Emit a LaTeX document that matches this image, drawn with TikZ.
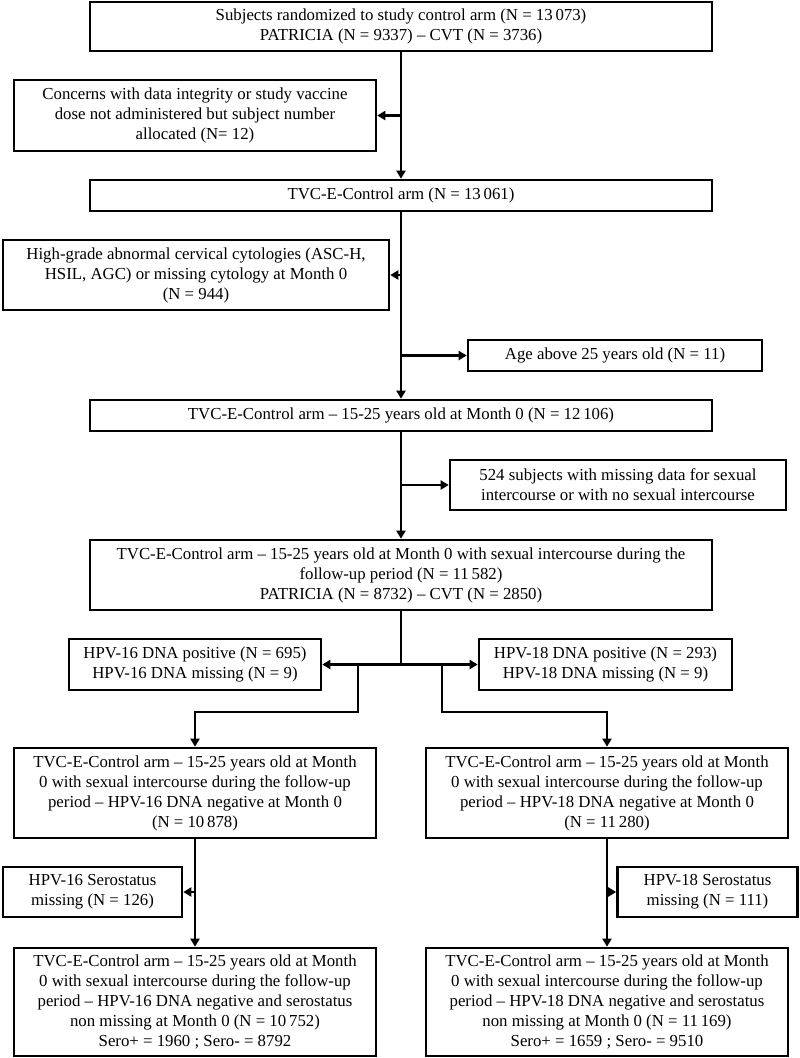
\documentclass[tikz,border=0pt]{standalone}
\usepackage{fontspec}
\setmainfont{Liberation Serif}
\usetikzlibrary{arrows.meta}
\begin{document}
\begin{tikzpicture}[x=1pt,y=-1pt,
  box/.style={draw,line width=2.6pt,align=center,inner sep=0pt,font=\fontsize{16.8}{20}\selectfont},
  conn/.style={line width=2.3pt},
  arr/.style={conn,-{Triangle[length=8pt,width=9pt]}}]
\useasboundingbox (0,0) rectangle (800,1058);
\node[box,minimum width=622pt,minimum height=49pt] (top) at (401,26.5)
  {Subjects randomized to study control arm (N = 13\,073)\\PATRICIA (N = 9337) – CVT (N = 3736)};
\node[box,minimum width=362pt,minimum height=71pt] (concerns) at (195,115.5)
  {Concerns with data integrity or study vaccine\\dose not administered but subject number\\allocated (N= 12)};
\node[box,minimum width=622pt,minimum height=31pt] (tvc1) at (401,195.5)
  {TVC-E-Control arm (N = 13\,061)};
\node[box,minimum width=386pt,minimum height=70pt] (high) at (196,275)
  {High-grade abnormal cervical cytologies (ASC-H,\\HSIL, AGC) or missing cytology at Month 0\\(N = 944)};
\node[box,minimum width=294pt,minimum height=31pt] (age) at (615,355.5)
  {Age above 25 years old (N = 11)};
\node[box,minimum width=622pt,minimum height=31pt] (tvc2) at (401,415.5)
  {TVC-E-Control arm – 15-25 years old at Month 0 (N = 12\,106)};
\node[box,minimum width=336pt,minimum height=50pt] (miss) at (618,485)
  {524 subjects with missing data for sexual\\intercourse or with no sexual intercourse};
\node[box,minimum width=622pt,minimum height=70pt] (tvc3) at (401,575)
  {TVC-E-Control arm – 15-25 years old at Month 0 with sexual intercourse during the\\follow-up period (N = 11\,582)\\PATRICIA (N = 8732) – CVT (N = 2850)};
\node[box,minimum width=252pt,minimum height=51pt] (pos16) at (195,664.5)
  {HPV-16 DNA positive (N = 695)\\HPV-16 DNA missing (N = 9)};
\node[box,minimum width=253pt,minimum height=51pt] (pos18) at (605.5,664.5)
  {HPV-18 DNA positive (N = 293)\\HPV-18 DNA missing (N = 9)};
\node[box,minimum width=362pt,minimum height=90pt] (neg16) at (195,793)
  {TVC-E-Control arm – 15-25 years old at Month\\0 with sexual intercourse during the follow-up\\period – HPV-16 DNA negative at Month 0\\(N = 10\,878)};
\node[box,minimum width=362pt,minimum height=90pt] (neg18) at (607,793)
  {TVC-E-Control arm – 15-25 years old at Month\\0 with sexual intercourse during the follow-up\\period – HPV-18 DNA negative at Month 0\\(N = 11\,280)};
\node[box,minimum width=179pt,minimum height=50pt] (sero16) at (92.5,892)
  {HPV-16 Serostatus\\missing (N = 126)};
\node[box,minimum width=180pt,minimum height=50pt] (sero18) at (707.5,892)
  {HPV-18 Serostatus\\missing (N = 111)};
\node[box,minimum width=362pt,minimum height=108pt] (fin16) at (195,1002)
  {TVC-E-Control arm – 15-25 years old at Month\\0 with sexual intercourse during the follow-up\\period – HPV-16 DNA negative and serostatus\\non missing at Month 0 (N = 10\,752)\\Sero+ = 1960 ; Sero- = 8792};
\node[box,minimum width=362pt,minimum height=108pt] (fin18) at (607,1002)
  {TVC-E-Control arm – 15-25 years old at Month\\0 with sexual intercourse during the follow-up\\period – HPV-18 DNA negative and serostatus\\non missing at Month 0 (N = 11\,169)\\Sero+ = 1659 ; Sero- = 9510};
% main flow
\draw[arr] (top.south) -- (tvc1.north);
\draw[arr] (top.south |- concerns.east) -- (concerns.east);
\draw[arr] (tvc1.south) -- (tvc2.north);
\draw[arr] (tvc1.south |- high.east) -- (high.east);
\draw[arr] (tvc1.south |- age.west) -- (age.west);
\draw[arr] (tvc2.south) -- (tvc3.north);
\draw[arr] (tvc2.south |- miss.west) -- (miss.west);
% split
\coordinate (split) at (tvc3.south |- pos16.east);
\draw[conn] (tvc3.south) -- (split);
\draw[arr] (split) -- (pos16.east);
\draw[arr] (split) -- (pos18.west);
\coordinate (l1) at (358,664.5);
\coordinate (l2) at (358,712);
\coordinate (r1) at (442,664.5);
\coordinate (r2) at (442,712);
\draw[arr] (l1) -- (l2) -| (neg16.north);
\draw[arr] (r1) -- (r2) -| (neg18.north);
% lower
\draw[arr] (neg16.south) -- (fin16.north);
\draw[arr] (neg16.south |- sero16.east) -- (sero16.east);
\draw[arr] (neg18.south) -- (fin18.north);
\draw[arr] (neg18.south |- sero18.west) -- (sero18.west);
\end{tikzpicture}
\end{document}
